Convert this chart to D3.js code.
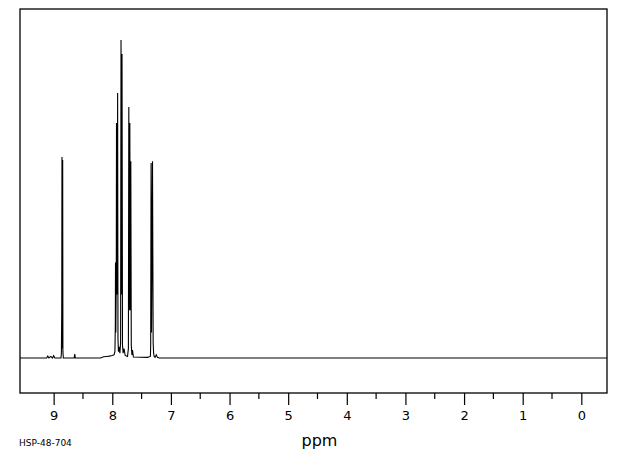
<!DOCTYPE html>
<html>
<head>
<meta charset="utf-8">
<script src="https://cdn.jsdelivr.net/npm/d3@7"></script>
<style>
  html, body { margin: 0; padding: 0; background: #fff; }
  svg { display: block; }
  text { font-family: "DejaVu Sans", sans-serif; fill: #000; }
</style>
</head>
<body>
<svg id="chart" width="620" height="455"></svg>
<script>
// Trace vertices (chemical shift in ppm, relative intensity)
const tracePpm = [9.574, 9.12, 9.10, 9.08, 9.05, 9.02, 9.00, 8.98, 8.96, 8.90, 8.875, 8.868, 8.862, 8.858, 8.853, 8.846, 8.842, 8.835, 8.82, 8.65, 8.64, 8.63, 8.20, 8.15, 8.10, 8.05, 8.00, 7.97, 7.955, 7.948, 7.945, 7.940, 7.932, 7.928, 7.923, 7.919, 7.914, 7.909, 7.903, 7.895, 7.885, 7.87, 7.858, 7.851, 7.843, 7.834, 7.826, 7.815, 7.80, 7.78, 7.74, 7.725, 7.718, 7.710, 7.701, 7.692, 7.684, 7.676, 7.665, 7.655, 7.64, 7.40, 7.35, 7.345, 7.338, 7.331, 7.314, 7.303, 7.295, 7.285, 7.27, 7.25, 7.23, 7.20, -0.438];
const traceInt = [0, 0, 0.6, 0, 0.5, 0, 0.7, 0, 0, 0, 0, 1.5, 15, 63.2, 3, 62.3, 2, 0, 0, 0, 1.2, 0, 0, 0.4, 0.5, 0.6, 0.8, 1, 2, 10, 30, 8, 25, 73.9, 20, 48, 30, 83.3, 6, 2, 3.5, 1.5, 5, 100, 20, 95.6, 4, 1.5, 3, 0.8, 0.5, 3, 78.9, 15, 73.9, 15, 61.9, 4, 1, 2.5, 0.3, 0.2, 0.5, 4, 61.3, 8, 61.9, 5, 1.5, 0.5, 0.2, 1, 0.2, 0, 0];

// Axis tick labels
const majorTicks = [9, 8, 7, 6, 5, 4, 3, 2, 1, 0];
const minorTicks = [8.5, 7.5, 6.5, 5.5, 4.5, 3.5, 2.5, 1.5, 0.5];
const axisTitle = "ppm";
const sampleId = "HSP-48-704";

const svg = d3.select("#chart");
const mLeft = 20, mRight = 607, mTop = 9, mBottom = 393;

const x = d3.scaleLinear().domain([9.574, -0.438]).range([mLeft, mRight]);
const y = d3.scaleLinear().domain([-11, 109.75]).range([mBottom, mTop]);

// spectrum trace
const pts = tracePpm.map((p, i) => [p, traceInt[i]]);
svg.append("path")
  .datum(pts)
  .attr("fill", "none")
  .attr("stroke", "#000")
  .attr("stroke-width", 1.1)
  .attr("d", d3.line().x(d => x(d[0])).y(d => y(d[1])));

// frame
svg.append("rect")
  .attr("x", mLeft).attr("y", mTop)
  .attr("width", mRight - mLeft).attr("height", mBottom - mTop)
  .attr("fill", "none").attr("stroke", "#000").attr("stroke-width", 1.3);

// axis
const axisG = svg.append("g").attr("transform", `translate(0,${mBottom})`);
axisG.call(d3.axisBottom(x).tickValues(majorTicks).tickSize(12).tickPadding(6).tickFormat(d3.format("d")))
  .call(g => g.select(".domain").remove())
  .call(g => g.selectAll(".tick line").attr("stroke", "#000").attr("stroke-width", 1.2))
  .call(g => g.selectAll(".tick text").attr("font-size", 13).attr("font-family", "DejaVu Sans, sans-serif").attr("fill", "#000"));

axisG.selectAll(".minor")
  .data(minorTicks)
  .join("line")
  .attr("class", "minor")
  .attr("x1", d => x(d)).attr("x2", d => x(d))
  .attr("y1", 0).attr("y2", 6)
  .attr("stroke", "#000").attr("stroke-width", 1.2);

svg.append("text")
  .attr("x", (mLeft + mRight) / 2 + 6).attr("y", 446)
  .attr("text-anchor", "middle")
  .attr("font-size", 16)
  .text(axisTitle);

svg.append("text")
  .attr("x", 19).attr("y", 446)
  .attr("font-size", 9)
  .text(sampleId);
</script>
</body>
</html>
